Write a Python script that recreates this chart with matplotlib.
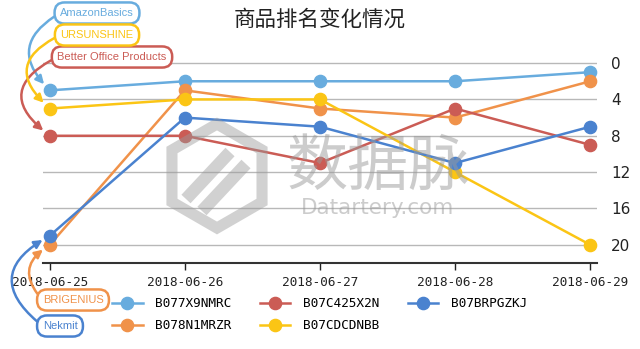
import matplotlib
matplotlib.use("Agg")
import matplotlib.pyplot as plt
from matplotlib.patches import RegularPolygon
from matplotlib.lines import Line2D

# data
dates = ["2018-06-25", "2018-06-26", "2018-06-27", "2018-06-28", "2018-06-29"]
products = ["B077X9NMRC", "B078N1MRZR", "B07C425X2N", "B07CDCDNBB", "B07BRPGZKJ"]
brands = ["AmazonBasics", "BRIGENIUS", "Better Office Products", "URSUNSHINE", "Nekmit"]
ranks = {
    "B077X9NMRC": [3, 2, 2, 2, 1],
    "B078N1MRZR": [20, 3, 5, 6, 2],
    "B07C425X2N": [8, 8, 11, 5, 9],
    "B07CDCDNBB": [5, 4, 4, 12, 20],
    "B07BRPGZKJ": [19, 6, 7, 11, 7],
}
colors = ["#68acde", "#f0924a", "#cb5c55", "#fbc515", "#4a82cf"]
yticks = [0, 4, 8, 12, 16, 20]

fig = plt.figure(figsize=(6.4, 3.49), dpi=100)
ax = fig.add_axes([43 / 640, 1 - 263 / 349, 554 / 640, 209 / 349])

x = list(range(len(dates)))
for name, c in zip(products, colors):
    ax.plot(x, ranks[name], color=c, lw=1.8, marker="o", ms=8.8, label=name, zorder=3)

ax.set_xlim(-0.05, 4.05)
ax.set_ylim(22, -1)
ax.set_xticks(x)
ax.set_xticklabels(dates, family="DejaVu Sans Mono", fontsize=9.2)
ax.set_yticks(yticks)
ax.yaxis.tick_right()
ax.tick_params(axis="y", length=0, pad=10, labelsize=11, colors="#222222")
ax.tick_params(axis="x", length=5, width=1, direction="out", pad=4, colors="#222222")
ax.grid(axis="y", color="#b8b8b8", lw=1)
ax.set_axisbelow(True)
for s in ["top", "left", "right"]:
    ax.spines[s].set_visible(False)
ax.spines["bottom"].set_color("#333333")
ax.spines["bottom"].set_linewidth(1.5)

fig.text(0.5, 1 - 20 / 349, "商品排名变化情况", ha="center", va="center",
         family=["Noto Sans CJK SC", "DejaVu Sans"], fontsize=15.5, color="#222222")

# watermark (logo + text)
wm = "#9a9a9a"
inch = fig.dpi_scale_trans
fig.patches.append(RegularPolygon((2.17, 1.73), 6, radius=0.52, orientation=0,
                                  transform=inch, fill=False, ec=wm, lw=8,
                                  alpha=0.45, zorder=5))
for (x0, y0), (x1, y1) in [((1.86, 1.50), (2.30, 1.97)), ((2.02, 1.38), (2.46, 1.85))]:
    fig.lines.append(Line2D([x0, x1], [y0, y1], transform=inch, color=wm,
                            lw=9, alpha=0.45, zorder=5, solid_capstyle="butt"))
fig.text(378 / 640, 1 - 168 / 349, "数据脉", ha="center", va="center",
         family=["Noto Sans CJK SC", "DejaVu Sans"], fontsize=44, color=wm, alpha=0.5, zorder=5)
fig.text(378 / 640, 1 - 208 / 349, "Datartery.com", ha="center", va="center",
         family="DejaVu Sans", fontsize=15.5, color=wm, alpha=0.5, zorder=5)

# brand callouts: box centre (px from top-left), arc curvature
boxes = {
    "AmazonBasics": (97, 13, 0.65),
    "URSUNSHINE": (97, 35, 0.75),
    "Better Office Products": (112, 57, 0.8),
    "BRIGENIUS": (73, 300, -0.6),
    "Nekmit": (60, 326, -0.75),
}
for i, (brand, c) in enumerate(zip(brands, colors)):
    bx, by, rad = boxes[brand]
    yv = ranks[products[i]][0]
    ax.annotate(brand, xy=(x[0], yv), xycoords="data",
                xytext=(bx, 349 - by), textcoords="figure pixels",
                ha="center", va="center", fontsize=8, color=c, family="Liberation Sans",
                bbox=dict(boxstyle="round,pad=0.5,rounding_size=0.9", fc="white", ec=c, lw=1.8),
                arrowprops=dict(arrowstyle="-|>", color=c, lw=1.8, mutation_scale=12,
                                connectionstyle="arc3,rad=%s" % rad,
                                relpos=(0, 0.5), shrinkA=0, shrinkB=6),
                annotation_clip=False, zorder=6)

fig.legend(loc="upper left", bbox_to_anchor=(112 / 640, 1 - 297 / 349), ncol=3,
           frameon=False, borderpad=0, borderaxespad=0, handlelength=2.4,
           handletextpad=1.0, columnspacing=2.2, labelspacing=0.72,
           prop={"family": "DejaVu Sans Mono", "size": 9.2})

fig.savefig("out.png", dpi=100)
